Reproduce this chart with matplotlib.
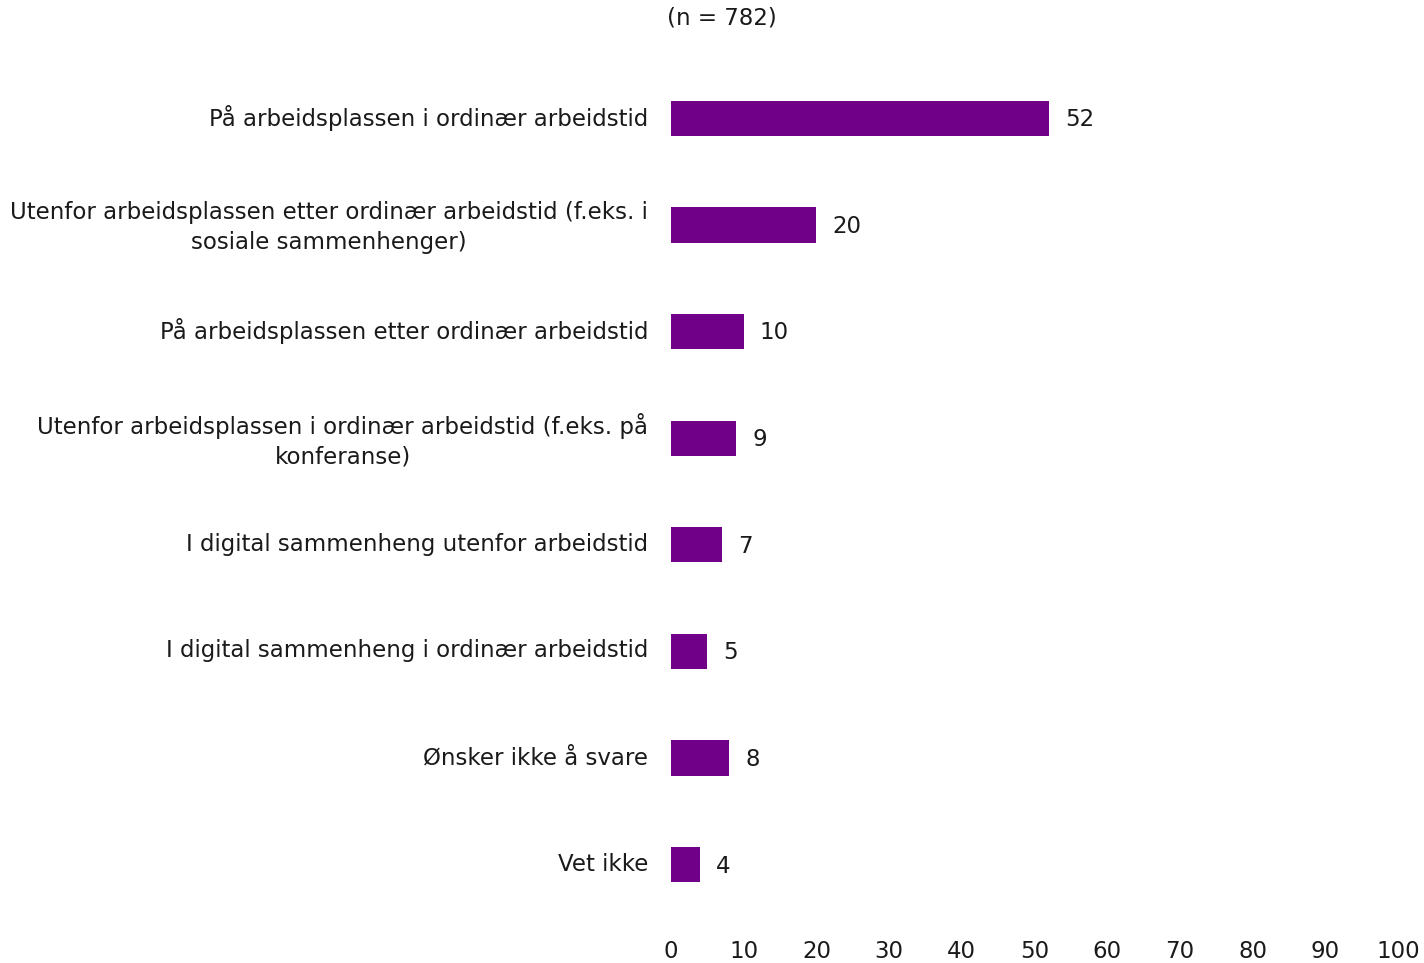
import matplotlib
matplotlib.use("Agg")
import matplotlib.pyplot as plt
import matplotlib.transforms as mtransforms

# Svar i prosent, n = 782
categories = [
    "På arbeidsplassen i ordinær arbeidstid",
    "Utenfor arbeidsplassen etter ordinær arbeidstid (f.eks. i\nsosiale sammenhenger)",
    "På arbeidsplassen etter ordinær arbeidstid",
    "Utenfor arbeidsplassen i ordinær arbeidstid (f.eks. på\nkonferanse)",
    "I digital sammenheng utenfor arbeidstid",
    "I digital sammenheng i ordinær arbeidstid",
    "Ønsker ikke å svare",
    "Vet ikke",
]
values = [52, 20, 10, 9, 7, 5, 8, 4]
xticks = [0, 10, 20, 30, 40, 50, 60, 70, 80, 90, 100]

bar_color = "#700088"
text_color = "#1a1a1a"
fs = 16.5
plt.rcParams["font.family"] = ["DejaVu Sans"]

fig = plt.figure(figsize=(14.24, 9.63), dpi=100)
ax = fig.add_axes([0.4712, 0.0467, 0.5105, 0.8858])

pos = list(range(len(categories)))
bars = ax.barh(pos, values, height=0.33, color=bar_color)

for b, v in zip(bars, values):
    ax.annotate(str(v), xy=(b.get_width(), b.get_y() + b.get_height() / 2),
                xytext=(11.5, -1), textcoords="offset points",
                ha="left", va="center", fontsize=fs, color=text_color)

ax.set_xlim(0, 100)
ax.set_ylim(len(categories) - 0.5, -0.5)
ax.set_xticks(xticks)
ax.set_xticklabels([str(t) for t in xticks], fontsize=fs, color=text_color)
ax.set_yticks(pos)
ax.set_yticklabels(categories, fontsize=fs, color=text_color,
                   multialignment="center", linespacing=1.37)
ax.tick_params(axis="both", length=0)
ax.tick_params(axis="y", pad=16.5)
ax.tick_params(axis="x", pad=16)
for s in ax.spines.values():
    s.set_visible(False)

# nudge category labels slightly upwards
lift = mtransforms.ScaledTranslation(0, 3 / 100, fig.dpi_scale_trans)
for lbl in ax.get_yticklabels():
    lbl.set_transform(lbl.get_transform() + lift)

fig.text(722 / 1424, 1 - 18 / 963, "(n = 782)", ha="center", va="center",
         fontsize=fs, color=text_color)

fig.savefig("out.png", dpi=100)
